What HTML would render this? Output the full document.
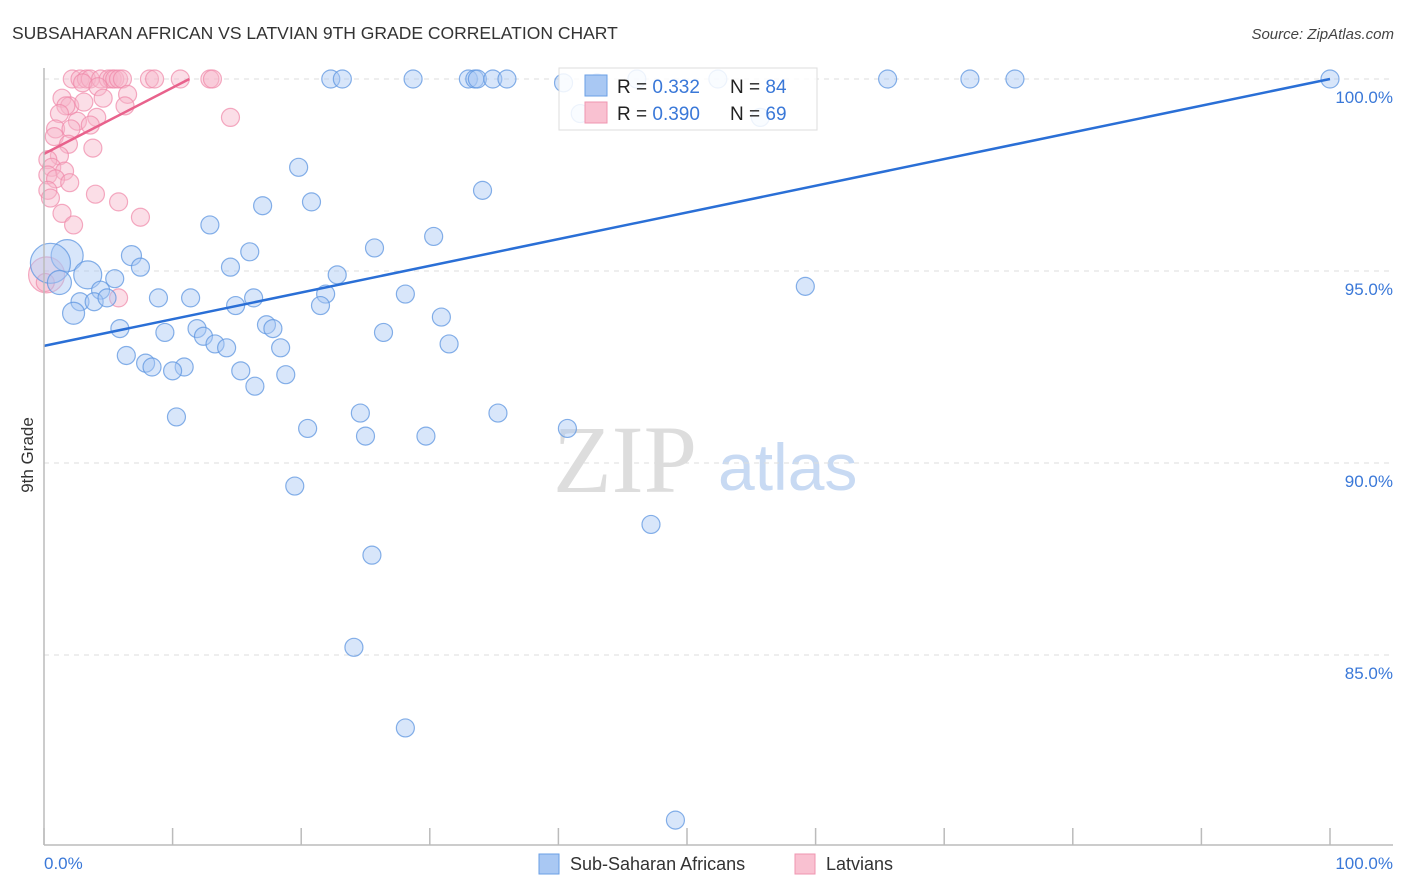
<!DOCTYPE html>
<html><head><meta charset="utf-8"><style>
body{margin:0;background:#fff;font-family:"Liberation Sans",sans-serif}
svg{display:block}
</style></head><body>
<svg id="chart" width="1406" height="892" xmlns="http://www.w3.org/2000/svg">
<text x="12" y="39" font-size="17.5" fill="#333">SUBSAHARAN AFRICAN VS LATVIAN 9TH GRADE CORRELATION CHART</text>
<text x="1394" y="39" font-size="15" fill="#444" font-style="italic" text-anchor="end">Source: ZipAtlas.com</text>
<text x="553" y="492" font-size="96" font-family="Liberation Serif,serif" fill="#ddd">ZIP</text>
<text x="718" y="490" font-size="66" fill="#c8daf3">atlas</text>
<g id="grid"></g>
<g id="points"></g>
<g id="lines"></g>
<line x1="44" y1="68" x2="44" y2="845" stroke="#bbb" stroke-width="1.5"/>
<line x1="44" y1="845" x2="1393" y2="845" stroke="#bbb" stroke-width="1.5"/>
<text transform="translate(33,455) rotate(-90)" font-size="17" fill="#333" text-anchor="middle">9th Grade</text>
<text x="44" y="869" font-size="17" fill="#3a78d8">0.0%</text>
<text x="1393" y="869" font-size="17" fill="#3a78d8" text-anchor="end">100.0%</text>
<g>
<rect x="559" y="68" width="258" height="62" fill="#fff" fill-opacity="0.85" stroke="#ddd"/>
<rect x="585" y="75" width="22" height="21" fill="#a9c8f3" stroke="#6a9fe6"/>
<rect x="585" y="102" width="22" height="21" fill="#f9c1d1" stroke="#ef95b0"/>
<text x="617" y="93" font-size="19" fill="#222">R = <tspan fill="#3a78d8">0.332</tspan></text>
<text x="730" y="93" font-size="19" fill="#222">N = <tspan fill="#3a78d8">84</tspan></text>
<text x="617" y="120" font-size="19" fill="#222">R = <tspan fill="#3a78d8">0.390</tspan></text>
<text x="730" y="120" font-size="19" fill="#222">N = <tspan fill="#3a78d8">69</tspan></text>
</g>
<g>
<rect x="539" y="854" width="20" height="20" fill="#a9c8f3" stroke="#6a9fe6"/>
<text x="570" y="870" font-size="18" fill="#333">Sub-Saharan Africans</text>
<rect x="795" y="854" width="20" height="20" fill="#f9c1d1" stroke="#ef95b0"/>
<text x="826" y="870" font-size="18" fill="#333">Latvians</text>
</g>
</svg>
<script>
const yTicks=[100,95,90,85];
const yTickLabels=["100.0%","95.0%","90.0%","85.0%"];
const xTicks=[0,10,20,30,40,50,60,70,80,90,100];
const blueX=[22.3,23.2,28.7,33.0,33.5,33.7,34.9,36.0,40.4,43.0,46.1,52.4,65.6,72.0,75.5,100,55.7,41.7,
19.8,34.1,20.8,17.0,12.9,30.3,25.7,16.0,6.8,1.8,0.5,14.5,7.5,22.8,3.4,5.5,1.2,59.2,4.4,8.9,11.4,28.1,21.9,16.3,2.8,3.9,4.9,14.9,21.5,2.3,30.9,5.9,11.9,9.4,17.3,17.8,26.4,12.4,13.3,14.2,18.4,31.5,6.4,7.9,8.4,10.9,10.0,15.3,18.8,16.4,24.6,35.3,10.3,20.5,25.0,29.7,40.7,19.5,47.2,25.5,24.1,28.1,49.1];
const blueY=[100,100,100,100,100,100,100,100,99.9,99.9,100,100,100,100,100,100,99.0,99.1,
97.7,97.1,96.8,96.7,96.2,95.9,95.6,95.5,95.4,95.4,95.2,95.1,95.1,94.9,94.9,94.8,94.7,94.6,94.5,94.3,94.3,94.4,94.4,94.3,94.2,94.2,94.3,94.1,94.1,93.9,93.8,93.5,93.5,93.4,93.6,93.5,93.4,93.3,93.1,93.0,93.0,93.1,92.8,92.6,92.5,92.5,92.4,92.4,92.3,92.0,91.3,91.3,91.2,90.9,90.7,90.7,90.9,89.4,88.4,87.6,85.2,83.1,80.7];
const blueR=[9,9,9,9,9,9,9,9,9,9,9,9,9,9,9,9,9,9,9,9,9,9,9,9,9,9,10,16,20,9,9,9,14,9,12,9,9,9,9,9,9,9,9,9,9,9,9,11,9,9,9,9,9,9,9,9,9,9,9,9,9,9,9,9,9,9,9,9,9,9,9,9,9,9,9,9,9,9,9,9,9];
const pinkX=[2.2,2.8,3.3,3.6,4.4,5.0,5.3,5.5,5.8,6.1,8.2,8.6,10.6,12.9,13.1,3.0,4.2,6.5,4.6,1.4,2.0,3.1,6.3,1.7,1.2,4.1,2.6,0.9,2.1,3.6,0.8,1.9,3.8,1.2,0.3,0.6,1.6,0.3,0.9,2.0,0.3,4.0,0.5,5.8,1.4,2.3,7.5,14.5,0.2,5.8,0.1];
const pinkY=[100,100,100,100,100,100,100,100,100,100,100,100,100,100,100,99.9,99.8,99.6,99.5,99.5,99.3,99.4,99.3,99.3,99.1,99.0,98.9,98.7,98.7,98.8,98.5,98.3,98.2,98.0,97.9,97.7,97.6,97.5,97.4,97.3,97.1,97.0,96.9,96.8,96.5,96.2,96.4,99.0,94.9,94.3,94.7];
const pinkR=[9,9,9,9,9,9,9,9,9,9,9,9,9,9,9,9,9,9,9,9,9,9,9,9,9,9,9,9,9,9,9,9,9,9,9,9,9,9,9,9,9,9,9,9,9,9,9,9,18,9,9];
const blueLine=[[0,93.05],[100,100]];
const pinkLine=[[0,98.05],[11.3,100]];
const NS="http://www.w3.org/2000/svg";
const xs=v=>44+v*12.86;
const ys=v=>79+(100-v)*38.4;
function mk(t,a,p){const e=document.createElementNS(NS,t);for(const k in a)e.setAttribute(k,a[k]);p.appendChild(e);return e;}
const grid=document.getElementById('grid');
yTicks.forEach((t,i)=>{
 const l=mk('line',{x1:44,x2:1393,y1:ys(t),y2:ys(t),stroke:'#ddd','stroke-dasharray':'5,5'},grid);
 
 
 const tx=mk('text',{x:1393,y:ys(t)+24,'font-size':17,fill:'#3a78d8','text-anchor':'end'},grid);
 tx.textContent=yTickLabels[i];
 
 
});
xTicks.forEach(t=>{
 const l=mk('line',{x1:xs(t),x2:xs(t),y1:828,y2:845,stroke:'#bbb','stroke-width':1.5},grid);
 
 
});
const pts=document.getElementById('points');
pinkX.forEach((v,i)=>{
 const c=mk('circle',{cx:xs(v),cy:ys(pinkY[i]),r:pinkR[i],fill:'#f7b6c9','fill-opacity':0.45,stroke:'#ef88a8','stroke-opacity':0.7,'stroke-width':1.2},pts);
 
 
});
blueX.forEach((v,i)=>{
 const c=mk('circle',{cx:xs(v),cy:ys(blueY[i]),r:blueR[i],fill:'#a9c8f3','fill-opacity':0.45,stroke:'#5e95e0','stroke-opacity':0.75,'stroke-width':1.2},pts);
 
 
});
const lg=document.getElementById('lines');
const bl=mk('line',{x1:xs(blueLine[0][0]),y1:ys(blueLine[0][1]),x2:xs(blueLine[1][0]),y2:ys(blueLine[1][1]),stroke:'#2a6fd6','stroke-width':2.5},lg);


const pl=mk('line',{x1:xs(pinkLine[0][0]),y1:ys(pinkLine[0][1]),x2:xs(pinkLine[1][0]),y2:ys(pinkLine[1][1]),stroke:'#e8628c','stroke-width':2.5},lg);


</script>
</body></html>
